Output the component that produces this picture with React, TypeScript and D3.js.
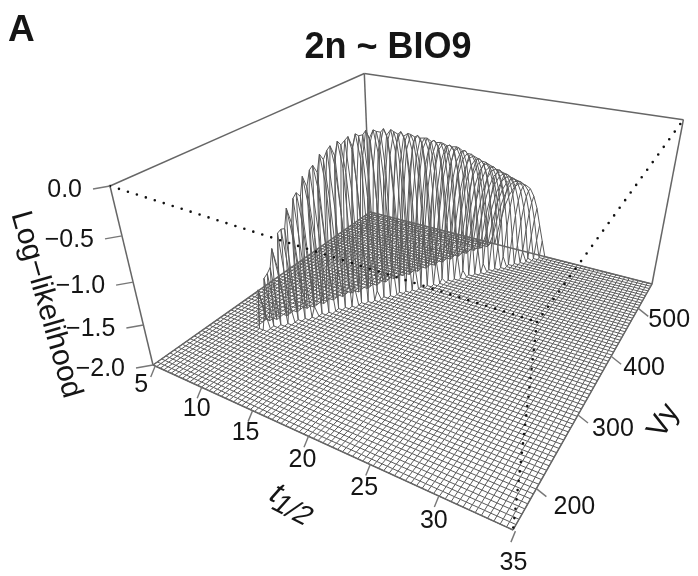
import React from "react";
import * as d3 from "d3";

const W = 698;
const H = 576;

// axis ranges and ticks
const tDomain = [4.75, 34.85];
const vDomain = [153, 559];
const zDomain = [-2, 0];
const tTicks = [5, 10, 15, 20, 25, 30, 35];
const vTicks = [200, 300, 400, 500];
const zTicks = [0, -0.5, -1, -1.5, -2];
const zLabels = ["0.0", "\u22120.5", "\u22121.0", "\u22121.5", "\u22122.0"];
const tCells = 75;
const vCells = 70;

// log-likelihood over the flat -2 floor.
// one row per v grid line, starting at ridgeFirstV; ridgeFirstT is the first t grid line of that row
const ridgeFirstV = 19;
const ridgeFirstT = [
  10, 10, 11, 12, 12, 13, 13, 14, 14, 15, 16, 16, 17, 17, 18, 18, 19, 19, 20, 21, 21, 22, 22, 23, 23,
  24, 24, 25, 25, 26, 27, 27, 28, 28, 29, 29, 30, 30, 31, 31, 32, 32, 33, 33, 34, 34, 35, 35, 36, 37,
  37, 38,
];
const ridgeZ = [
  [-1.53, -1.78],
  [-1.93, -1.4],
  [-1.37, -1.28],
  [-1.08, -1.41],
  [-1.37, -0.91, -1.75],
  [-0.89, -0.87],
  [-1.5, -0.66, -1.01],
  [-0.86, -0.56, -1.38],
  [-1.71, -0.52, -0.55, -1.89],
  [-0.93, -0.35, -0.7],
  [-0.49, -0.29, -1.01],
  [-1.11, -0.26, -0.33, -1.52],
  [-0.55, -0.15, -0.48],
  [-1.34, -0.23, -0.12, -0.77],
  [-0.71, -0.09, -0.19, -1.17],
  [-1.59, -0.32, -0.05, -0.34, -1.73],
  [-0.9, -0.11, -0.05, -0.6],
  [-1.86, -0.44, -0.03, -0.14, -0.95],
  [-1.11, -0.19, -0.01, -0.28, -1.38],
  [-0.6, -0.05, -0.03, -0.51, -1.9],
  [-1.33, -0.29, 0, -0.11, -0.8],
  [-0.8, -0.11, -0.005, -0.25, -1.18],
  [-1.54, -0.44, -0.04, -0.04, -0.46, -1.58],
  [-1.05, -0.23, -0.02, -0.13, -0.75],
  [-1.8, -0.61, -0.11, -0.04, -0.27, -1.06],
  [-1.17, -0.36, -0.08, -0.1, -0.44, -1.4],
  [-1.9, -0.77, -0.22, -0.09, -0.18, -0.66, -1.68],
  [-1.3, -0.5, -0.16, -0.12, -0.31, -0.89],
  [-1.96, -0.9, -0.33, -0.15, -0.17, -0.46, -1.14],
  [-1.43, -0.62, -0.25, -0.17, -0.25, -0.62, -1.43],
  [-1.02, -0.46, -0.22, -0.21, -0.35, -0.81, -1.69],
  [-1.52, -0.74, -0.36, -0.23, -0.26, -0.48, -1.01, -1.96],
  [-1.13, -0.57, -0.31, -0.265, -0.33, -0.62, -1.23],
  [-1.6, -0.88, -0.47, -0.31, -0.3, -0.43, -0.79, -1.47],
  [-1.25, -0.68, -0.41, -0.33, -0.35, -0.53, -0.96, -1.68],
  [-1.69, -0.98, -0.57, -0.39, -0.36, -0.42, -0.65, -1.13, -1.92],
  [-1.34, -0.8, -0.51, -0.4, -0.39, -0.5, -0.78, -1.31],
  [-1.73, -1.09, -0.67, -0.47, -0.42, -0.45, -0.59, -0.94, -1.51],
  [-1.43, -0.91, -0.62, -0.49, -0.465, -0.52, -0.71, -1.09, -1.68],
  [-1.82, -1.19, -0.8, -0.6, -0.52, -0.52, -0.61, -0.83, -1.26, -1.9],
  [-1.52, -1.04, -0.75, -0.6, -0.56, -0.58, -0.7, -0.96, -1.41],
  [-1.86, -1.31, -0.92, -0.71, -0.62, -0.61, -0.66, -0.81, -1.1, -1.57],
  [-1.6, -1.15, -0.86, -0.71, -0.655, -0.66, -0.74, -0.92, -1.23, -1.72],
  [-1.91, -1.4, -1.03, -0.82, -0.72, -0.7, -0.72, -0.82, -1.02, -1.38, -1.87],
  [-1.66, -1.25, -0.97, -0.82, -0.76, -0.75, -0.79, -0.91, -1.14, -1.49],
  [-1.94, -1.48, -1.14, -0.94, -0.83, -0.8, -0.8, -0.86, -1.0, -1.25, -1.63],
  [-1.73, -1.35, -1.09, -0.93, -0.86, -0.845, -0.86, -0.94, -1.1, -1.37, -1.76],
  [-1.98, -1.54, -1.26, -1.05, -0.94, -0.89, -0.89, -0.92, -1.02, -1.2, -1.47, -1.87],
  [-1.78, -1.44, -1.19, -1.04, -0.96, -0.94, -0.95, -0.99, -1.1, -1.3, -1.59, -1.98],
  [-1.62, -1.34, -1.16, -1.05, -0.99, -0.985, -1.0, -1.06, -1.18, -1.39, -1.69],
  [-1.82, -1.5, -1.29, -1.14, -1.06, -1.03, -1.03, -1.06, -1.13, -1.27, -1.49, -1.77],
  [-1.68, -1.43, -1.26, -1.15, -1.09, -1.08, -1.09, -1.12, -1.21, -1.36, -1.58, -1.79],
];

// pixel position of the box corners
const floorLeft = [153, 365];
const floorFront = [513, 530];
const floorRight = [652, 284];
const floorBack = [370, 212];
const topLeft = [110, 186];
const topRight = [682, 127];
const topFront = [537, 322];

// floor homography (unit square to quad), plus the vanishing point of the vertical edges
const makeProjection = () => {
  const [x0, y0] = floorLeft;
  const [x1, y1] = floorFront;
  const [x2, y2] = floorRight;
  const [x3, y3] = floorBack;
  const dx1 = x1 - x2, dx2 = x3 - x2, sx = x0 - x1 + x2 - x3;
  const dy1 = y1 - y2, dy2 = y3 - y2, sy = y0 - y1 + y2 - y3;
  const den = dx1 * dy2 - dx2 * dy1;
  const g = (sx * dy2 - dx2 * sy) / den;
  const h = (dx1 * sy - sx * dy1) / den;
  const a = x1 - x0 + g * x1, b = x3 - x0 + h * x3;
  const d = y1 - y0 + g * y1, e = y3 - y0 + h * y3;

  const ax = topLeft[0] - x0, ay = topLeft[1] - y0;
  const cx = topRight[0] - x2, cy = topRight[1] - y2;
  const s = ((x2 - x0) * cy - (y2 - y0) * cx) / (ax * cy - ay * cx);
  const vx = x0 + s * ax, vy = y0 + s * ay;
  const lambda = (topLeft[1] - y0) / (vy - topLeft[1]);

  return (u: number, v: number, w: number): [number, number] => {
    const q = g * u + h * v + 1 + lambda * w;
    return [
      (a * u + b * v + x0 + lambda * vx * w) / q,
      (d * u + e * v + y0 + lambda * vy * w) / q,
    ];
  };
};

const project = makeProjection();
const tScale = d3.scaleLinear().domain(tDomain).range([0, 1]);
const vScale = d3.scaleLinear().domain(vDomain).range([0, 1]);
const zScale = d3.scaleLinear().domain(zDomain).range([0, 1]);

const zAt = (i: number, j: number) => {
  const row = ridgeZ[j - ridgeFirstV];
  if (!row) return zDomain[0];
  const value = row[i - ridgeFirstT[j - ridgeFirstV]];
  return value === undefined ? zDomain[0] : value;
};

const gridLine = d3.line<[number, number]>().x(d => d[0]).y(d => d[1]);
const tIndex = d3.range(tCells + 1);
const vIndex = d3.range(vCells + 1);
const gridPoint = (i: number, j: number) =>
  project(i / tCells, j / vCells, zScale(zAt(i, j)));

const seg = (p: number[][]) => gridLine(p as [number, number][]) as string;

// label nudges
const tTickEnd = [-4.5, 11];
const tLabelDx = [-14, -5, -7, -6, -6, -5, -2];
const tLabelDy = [17, 20, 20, 22, 21, 23, 30];
const vTickEnd = [10, 8];
const vLabelDx = [38, 35, 33, 31];
const vLabelDy = [16, 12, 10, 10];
const zTickEnd = [-17, 3];

const boxStroke = "#666";
const textColor = "#151515";
const font = "'Liberation Sans', Arial, sans-serif";

export default function App() {
  const solidEdges = [
    [project(0, 0, 0), project(0, 0, 1)],
    [project(0, 0, 1), project(0, 1, 1)],
    [project(0, 1, 1), project(1, 1, 1)],
    [project(1, 1, 1), project(1, 1, 0)],
    [project(0, 1, 1), project(0, 1, 0)],
    [project(0, 0, 0), project(1, 0, 0)],
    [project(1, 0, 0), project(1, 1, 0)],
    [project(1, 1, 0), project(0, 1, 0)],
    [project(0, 1, 0), project(0, 0, 0)],
  ];
  const dottedEdges = [
    [project(0, 0, 1), topFront],
    [topFront, project(1, 0, 0)],
    [topFront, project(1, 1, 1)],
  ];

  return (
    <svg
      width={W}
      height={H}
      viewBox={`0 0 ${W} ${H}`}
      style={{ position: "absolute", left: 0, top: 0, background: "#fff" }}
      fontFamily={font}
    >
      <defs>
        <filter id="soft" x="0" y="0" width="100%" height="100%" colorInterpolationFilters="sRGB">
          <feGaussianBlur stdDeviation="0.55" />
        </filter>
      </defs>
      <g filter="url(#soft)">
        <rect width={W} height={H} fill="#fff" />
        <g fill="none" stroke="#5a5a5a" strokeWidth={1}>
          {tIndex.map(i => (
            <path key={`t${i}`} d={gridLine(vIndex.map(j => gridPoint(i, j))) as string} />
          ))}
          {vIndex.map(j => (
            <path key={`v${j}`} d={gridLine(tIndex.map(i => gridPoint(i, j))) as string} />
          ))}
        </g>
        <g fill="none" stroke={boxStroke} strokeWidth={1.5}>
          {solidEdges.map((p, k) => (
            <path key={k} d={seg(p)} />
          ))}
        </g>
        <g fill="none" stroke="#111" strokeWidth={2.6} strokeLinecap="round" strokeDasharray="0 9.4">
          {dottedEdges.map((p, k) => (
            <path key={k} d={seg(p)} />
          ))}
        </g>

        {/* t axis */}
        {tTicks.map((t, k) => {
          const [x, y] = project(tScale(t), 0, 0);
          return (
            <g key={t}>
              <line x1={x} y1={y} x2={x + tTickEnd[0]} y2={y + tTickEnd[1]} stroke="#777" strokeWidth={1.4} />
              <text
                x={x + tLabelDx[k]}
                y={y + tLabelDy[k]}
                fontSize={25}
                textAnchor="middle"
                dominantBaseline="central"
                fill={textColor}
              >
                {t}
              </text>
            </g>
          );
        })}

        {/* v axis */}
        {vTicks.map((v, k) => {
          const [x, y] = project(1, vScale(v), 0);
          return (
            <g key={v}>
              <line x1={x} y1={y} x2={x + vTickEnd[0]} y2={y + vTickEnd[1]} stroke="#777" strokeWidth={1.4} />
              <text
                x={x + vLabelDx[k]}
                y={y + vLabelDy[k]}
                fontSize={25}
                textAnchor="middle"
                dominantBaseline="central"
                fill={textColor}
              >
                {v}
              </text>
            </g>
          );
        })}

        {/* z axis */}
        {zTicks.map((z, k) => {
          const [x, y] = project(0, 0, zScale(z));
          return (
            <g key={z}>
              <line x1={x} y1={y} x2={x + zTickEnd[0]} y2={y + zTickEnd[1]} stroke="#777" strokeWidth={1.4} />
              <text
                x={x - 28}
                y={y + 2}
                fontSize={25}
                textAnchor="end"
                dominantBaseline="central"
                fill={textColor}
              >
                {zLabels[k]}
              </text>
            </g>
          );
        })}

        <text x={8} y={41} fontSize={37} fontWeight="bold" fill={textColor}>
          A
        </text>
        <text x={388} y={58} fontSize={36} fontWeight="bold" textAnchor="middle" fill={textColor}>
          2n ~ BIO9
        </text>
        <text
          transform="translate(48,304) rotate(74)"
          fontSize={30}
          textAnchor="middle"
          dominantBaseline="central"
          fill={textColor}
        >
          Log{"\u2212"}likelihood
        </text>
        <text
          transform="translate(295,501) rotate(27) skewX(-15)"
          fontSize={31}
          textAnchor="middle"
          dominantBaseline="central"
          fill={textColor}
        >
          t
          <tspan fontSize={28} dy={8}>
            1/2
          </tspan>
        </text>
        <text
          transform="translate(662,420) rotate(-60)"
          fontSize={30}
          textAnchor="middle"
          dominantBaseline="central"
          fill={textColor}
        >
          Vy
        </text>
      </g>
    </svg>
  );
}
